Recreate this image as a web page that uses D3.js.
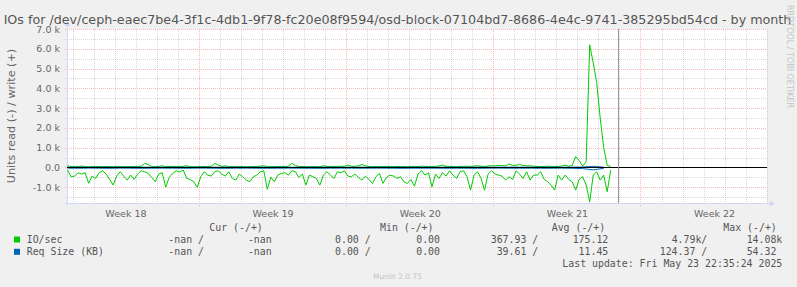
<!DOCTYPE html>
<html><head><meta charset="utf-8">
<script src="https://cdn.jsdelivr.net/npm/d3@7"></script>
<style>body{margin:0;background:#f0f0f0;} svg{display:block}</style>
</head><body><svg id="c" width="797" height="287"></svg>
<script>
// ---- data ----
const titleText = "IOs for /dev/ceph-eaec7be4-3f1c-4db1-9f78-fc20e08f9594/osd-block-07104bd7-8686-4e4c-9741-385295bd54cd - by month";
const yAxisLabel = "Units read (-) / write (+)";
const yTickValues = [-1000,0,1000,2000,3000,4000,5000,6000,7000];
const yTickLabels = ["-1.0 k","0.0","1.0 k","2.0 k","3.0 k","4.0 k","5.0 k","6.0 k","7.0 k"];
const weekLabels = ["Week 18","Week 19","Week 20","Week 21","Week 22"];
const weekCenterDays = [3.5,10.5,17.5,24.5,31.5];   // days since Monday of week 18
const nowDay = 26.93;

// IO/sec, one point every 4 hours
const ioStartDay = 0.75, ioStepDays = 1/6;
const ioWrite = [
 84,40,35,45,68,40,30,45,40,50,
 35,45,40,30,50,45,40,35,45,40,
 50,60,200,150,40,35,50,84,40,45,
 50,40,45,55,84,40,35,30,45,50,
 40,60,200,120,50,84,45,40,35,45,
 40,35,40,45,50,60,84,40,35,40,
 45,50,45,60,200,100,40,45,35,40,
 45,40,35,84,50,45,40,50,55,60,
 118,60,50,80,150,84,45,40,50,45,
 40,50,45,40,50,45,40,35,45,50,
 45,60,50,45,40,50,80,118,60,50,
 45,40,50,55,60,45,70,84,60,50,
 70,90,80,100,90,80,170,100,110,150,
 90,80,84,60,50,45,50,60,50,45,
 50,70,118,60,100,550,350,60,300,6200,
 5300,4300,2500,1000,100,50
];
const ioRead = [
 135,473,439,270,338,270,800,439,557,270,
 169,338,608,890,439,220,439,641,388,608,
 338,169,220,304,506,726,338,270,1000,506,
 304,169,236,135,557,608,726,1010,473,220,
 388,439,220,169,338,439,220,557,641,338,
 473,641,726,473,388,220,169,1110,506,726,
 388,304,270,388,169,220,506,338,895,388,
 473,557,895,388,220,388,557,220,270,169,
 439,473,338,506,641,439,608,810,473,304,
 810,506,388,439,557,473,726,810,608,950,
 338,169,388,270,980,338,557,270,439,169,
 388,557,220,169,473,1150,388,220,557,1150,
 338,169,338,388,439,641,473,608,169,338,
 557,220,641,388,388,220,600,726,900,1148,
 388,641,388,600,726,1148,600,473,895,1740,
 388,220,641,388,1232,135
];
// Req Size (KB), one point every 12 hours
const reqStartDay = 0.75, reqStepDays = 0.5;
const reqRead = [
 38,42,35,40,45,36,39,44,41,37,
 40,43,38,35,42,46,39,37,41,44,
 40,36,38,43,45,39,37,40,42,38,
 36,41,44,39,37,40,43,38,41,45,
 39,36,40,42,38,44,41,37,43,60,
 124,45
];
const reqWrite = [
 11,12,10,11,13,10,11,12,11,10,
 11,12,10,11,12,13,11,10,11,12,
 11,10,11,12,13,11,10,11,12,11,
 10,11,12,11,10,11,12,11,11,13,
 11,10,11,12,11,12,11,10,12,20,
 54,12
];
const legendHeaders = ["Cur (-/+)","Min (-/+)","Avg (-/+)","Max (-/+)"];
const legendNames = ["IO/sec","Req Size (KB)"];
const legendColors = ["#00cc00","#0066b3"];
const legendValues = [
 ["-nan /","-nan","0.00 /","0.00","367.93 /","175.12","4.79k/","14.08k"],
 ["-nan /","-nan","0.00 /","0.00","39.61 /","11.45","124.37 /","54.32 "]
];
const lastUpdate = "Last update: Fri May 23 22:35:24 2025";
const muninVersion = "Munin 2.0.75";
const watermark = "RRDTOOL / TOBI OETIKER";

// ---- layout ----
const L = 67, R = 767, T = 29, B = 203;
const svg = d3.select("#c");
const x = d3.scaleLinear().domain([0.7216, 34.017]).range([L, R]);
const y = d3.scaleLinear().domain([-1800, 7000]).range([B, T]);
const FONT = "'DejaVu Sans', sans-serif";
const MONO = "'DejaVu Sans Mono', monospace";
const fontCol = "#666666";

svg.append("rect").attr("width",797).attr("height",287).attr("fill","#f0f0f0");
svg.append("rect").attr("x",L).attr("y",T).attr("width",R-L).attr("height",B-T).attr("fill","#ffffff");

// grid
const g = svg.append("g");
const minorY = d3.range(-1500, 7000, 500).filter(v => v % 1000 !== 0);
const minorX = d3.range(1, 35).filter(d => d % 7 !== 0);
const majorX = [7,14,21,28];
const gridMinor = {stroke:"rgb(140,140,140)", op:0.345};
const gridMajor = {stroke:"rgb(245,128,128)", op:0.549};
minorY.forEach(v => g.append("line").attr("x1",L-2).attr("x2",R).attr("y1",Math.round(y(v))+0.5).attr("y2",Math.round(y(v))+0.5)
  .attr("stroke",gridMinor.stroke).attr("stroke-opacity",gridMinor.op).attr("stroke-dasharray","1,1"));
minorX.filter(d => x(d) > L && x(d) < R).forEach(d => g.append("line").attr("y1",T).attr("y2",B+2).attr("x1",Math.round(x(d))+0.5).attr("x2",Math.round(x(d))+0.5)
  .attr("stroke",gridMinor.stroke).attr("stroke-opacity",gridMinor.op).attr("stroke-dasharray","1,1"));
yTickValues.forEach(v => g.append("line").attr("x1",L-2).attr("x2",R).attr("y1",Math.round(y(v))+0.5).attr("y2",Math.round(y(v))+0.5)
  .attr("stroke",gridMajor.stroke).attr("stroke-opacity",gridMajor.op).attr("stroke-dasharray","1,1"));
majorX.forEach(d => g.append("line").attr("y1",T).attr("y2",B+3).attr("x1",Math.round(x(d))+0.5).attr("x2",Math.round(x(d))+0.5)
  .attr("stroke",gridMajor.stroke).attr("stroke-opacity",gridMajor.op).attr("stroke-dasharray","1,1"));

// axes lines + arrows
const axCol = "#cfd6f8";
svg.append("line").attr("x1",L+0.5).attr("x2",L+0.5).attr("y1",B+2).attr("y2",T-4).attr("stroke",axCol);
svg.append("line").attr("x1",L-2).attr("x2",R+4).attr("y1",B+0.5).attr("y2",B+0.5).attr("stroke",axCol);
svg.append("path").attr("d",`M${L-2.5},${T-3}L${L+3.5},${T-3}L${L+0.5},${T-8}Z`).attr("fill",axCol);
svg.append("path").attr("d",`M${R+3},${B-2.5}L${R+3},${B+3.5}L${R+8},${B+0.5}Z`).attr("fill",axCol);

// tick labels
const yAx = svg.append("g").attr("transform",`translate(${L},0)`)
  .call(d3.axisLeft(y).tickValues(yTickValues).tickFormat((d,i)=>yTickLabels[i]).tickSize(0).tickPadding(7));
yAx.select(".domain").remove();
yAx.selectAll("text").attr("fill",fontCol).style("font-family",FONT).style("font-size","9.5px");
const xAx = svg.append("g").attr("transform",`translate(0,${B})`)
  .call(d3.axisBottom(x).tickValues(weekCenterDays).tickFormat((d,i)=>weekLabels[i]).tickSize(0).tickPadding(7));
xAx.select(".domain").remove();
xAx.selectAll("text").attr("fill",fontCol).style("font-family",FONT).style("font-size","9.5px");

// clip
svg.append("clipPath").attr("id","pc").append("rect").attr("x",L).attr("y",T).attr("width",R-L).attr("height",B-T+1);
const plot = svg.append("g").attr("clip-path","url(#pc)");

const ioW = ioWrite.map((v,i)=>({day: ioStartDay + i*ioStepDays, v: v}));
const ioR = ioRead.map((v,i)=>({day: ioStartDay + i*ioStepDays, v: -v}));
const rqW = reqWrite.map((v,i)=>({day: reqStartDay + i*reqStepDays, v: v}));
const rqR = reqRead.map((v,i)=>({day: reqStartDay + i*reqStepDays, v: -v}));
const line = d3.line().x(d=>x(d.day)).y(d=>y(d.v));

plot.append("path").datum(ioR).attr("d",line).attr("fill","none").attr("stroke","#00cc00").attr("stroke-width",1);
plot.append("path").datum(ioW).attr("d",line).attr("fill","none").attr("stroke","#00cc00").attr("stroke-width",1);
plot.append("path").datum(rqR).attr("d",line).attr("fill","none").attr("stroke","#0066b3").attr("stroke-width",1);
plot.append("path").datum(rqW).attr("d",line).attr("fill","none").attr("stroke","#0066b3").attr("stroke-width",1);

// zero rule
svg.append("line").attr("x1",L).attr("x2",R).attr("y1",Math.round(y(0))+0.5).attr("y2",Math.round(y(0))+0.5).attr("stroke","#000").attr("stroke-width",1);
// now rule
svg.append("line").attr("x1",Math.round(x(nowDay))+0.5).attr("x2",Math.round(x(nowDay))+0.5).attr("y1",T).attr("y2",B).attr("stroke","#999999").attr("stroke-width",1);

// title
svg.append("text").attr("x",397.5).attr("y",23.5).attr("text-anchor","middle").attr("fill","#555555")
  .style("font-family",FONT).style("font-size","12.7px").text(titleText);
// y label
svg.append("text").attr("transform",`translate(15,116) rotate(-90)`).attr("text-anchor","middle").attr("fill",fontCol)
  .style("font-family",FONT).style("font-size","11.2px").text(yAxisLabel);
// watermark
svg.append("text").attr("transform",`translate(787,5) rotate(90)`).attr("fill","#c4c4c4")
  .style("font-family",FONT).style("font-size","8px").text(watermark);

// legend
const hdrX = [209.3,380,551.7,723.3];
legendHeaders.forEach((h,i)=>svg.append("text").attr("x",hdrX[i]).attr("y",231.3).attr("fill","#555")
  .style("font-family",MONO).style("font-size","9.9px").style("white-space","pre").text(h));
const colEnd = [204,271.7,370.7,440,538.3,608.3,707.3,782.3];
const rowY = [243,255.3];
legendNames.forEach((n,r)=>{
  svg.append("rect").attr("x",14).attr("y",rowY[r]-6.5).attr("width",6).attr("height",6).attr("fill",legendColors[r]);
  svg.append("text").attr("x",26.7).attr("y",rowY[r]).attr("fill","#555").style("font-family",MONO).style("font-size","9.9px").text(n);
  legendValues[r].forEach((v,c)=>svg.append("text").attr("x",colEnd[c]).attr("y",rowY[r]).attr("text-anchor","end")
    .attr("fill","#555").style("font-family",MONO).style("font-size","9.9px").style("white-space","pre").text(v));
});
svg.append("text").attr("x",782.3).attr("y",267).attr("text-anchor","end").attr("fill","#555")
  .style("font-family",MONO).style("font-size","9.9px").text(lastUpdate);
svg.append("text").attr("x",397.5).attr("y",278.5).attr("text-anchor","middle").attr("fill","#c4c4c4")
  .style("font-family",FONT).style("font-size","7.5px").text(muninVersion);
</script></body></html>
